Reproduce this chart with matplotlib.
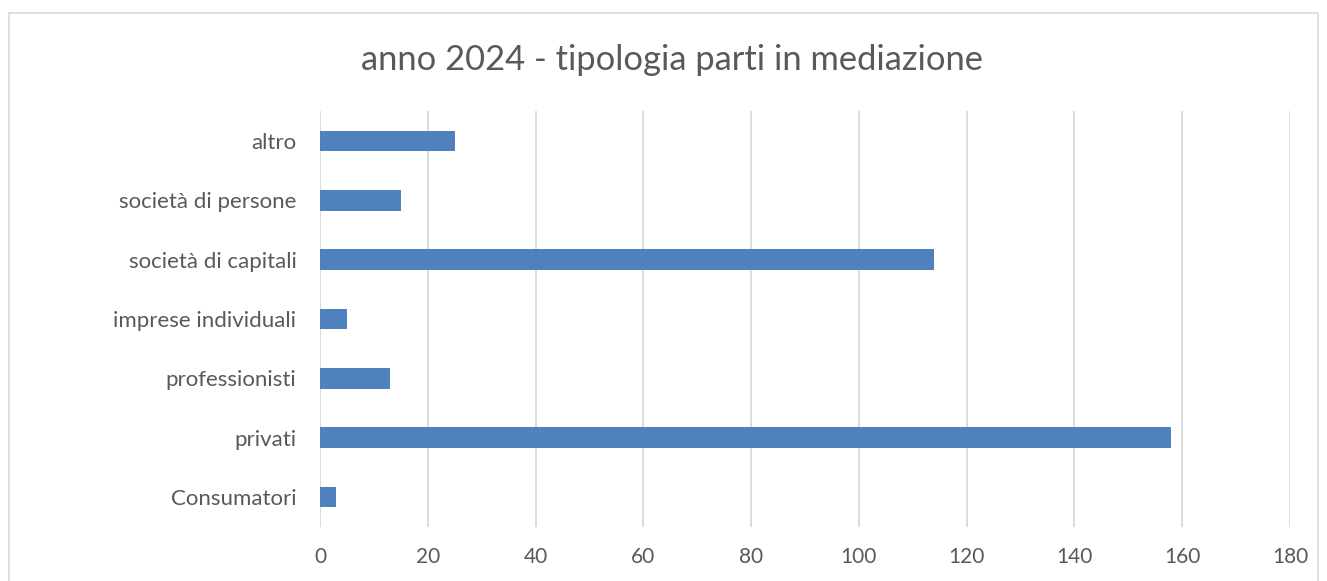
import matplotlib
matplotlib.use("Agg")
import matplotlib.pyplot as plt
from matplotlib.patches import Rectangle

categories = ["Consumatori", "privati", "professionisti", "imprese individuali",
              "società di capitali", "società di persone", "altro"]
values = [3, 158, 13, 5, 114, 15, 25]
xticks = [0, 20, 40, 60, 80, 100, 120, 140, 160, 180]
title = "anno 2024 - tipologia parti in mediazione"

plt.rcParams['font.family'] = ['Lato', 'DejaVu Sans']
W, H = 1327, 581
fig = plt.figure(figsize=(W / 100, H / 100), dpi=100)
fig.patch.set_facecolor("white")

# outer chart border
fig.patches.append(Rectangle((9 / W, -0.1), (1318 - 9) / W, 1.1 - 13 / H,
                             transform=fig.transFigure, fill=False,
                             edgecolor="#D9D9D9", linewidth=1.2))

ax = fig.add_axes([320 / W, 1 - 526.6 / H, (1290 - 320) / W, (526.6 - 111.4) / H])
y = range(len(categories))
ax.barh(y, values, height=0.35, color="#4F81BD", zorder=3)
ax.set_xlim(0, 180)
ax.set_ylim(-0.5, len(categories) - 0.5)
ax.set_xticks(xticks)
ax.set_xticklabels([str(t) for t in xticks])
ax.set_yticks(list(y))
ax.set_yticklabels(categories)
ax.grid(axis="x", color="#D9D9D9", linewidth=1.3, zorder=0)
for s in ["top", "right", "bottom", "left"]:
    ax.spines[s].set_visible(False)
ax.tick_params(axis="both", length=0, colors="#595959")
ax.tick_params(axis="x", pad=15, labelsize=15)
ax.tick_params(axis="y", pad=17, labelsize=16)

fig.text(672 / W, 1 - 60 / H, title, ha="center", va="center",
         fontsize=24.8, color="#595959")

fig.savefig("out.png", dpi=100, facecolor="white")
